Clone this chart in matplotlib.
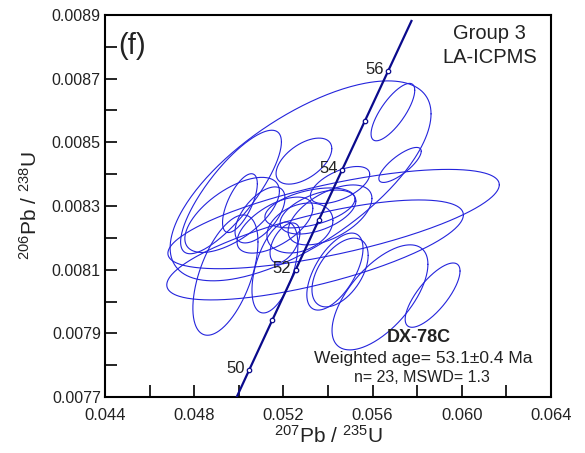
import numpy as np
import matplotlib
matplotlib.use("Agg")
import matplotlib.pyplot as plt
from matplotlib.ticker import MultipleLocator, FixedLocator, FormatStrFormatter

plt.rcParams['font.family'] = ['Liberation Sans', 'DejaVu Sans']
plt.rcParams['mathtext.default'] = 'regular'

# ---- analysis data (ellipse centres, half-extents, correlation) ----
pb207_u235 = [0.05277, 0.05691, 0.05723, 0.04965, 0.05005, 0.04970, 0.05292, 0.05454,
              0.05425, 0.05342, 0.05633, 0.05869, 0.05431, 0.05454, 0.04940, 0.05162,
              0.05162, 0.05207, 0.05355, 0.05409, 0.05274, 0.05319, 0.05095]
pb207_u235_err = [0.00585, 0.00098, 0.00095, 0.00226, 0.00078, 0.00212, 0.00125, 0.00133,
                  0.00743, 0.00665, 0.00215, 0.00123, 0.00126, 0.00126, 0.00146, 0.00103,
                  0.00170, 0.00067, 0.00170, 0.00188, 0.00148, 0.00202, 0.00112]
pb206_u238 = [0.008379, 0.008595, 0.008429, 0.008344, 0.008309, 0.008272, 0.008441, 0.008366,
              0.008259, 0.008162, 0.008013, 0.008020, 0.008094, 0.008091, 0.008083, 0.008107,
              0.008240, 0.008184, 0.008281, 0.008272, 0.008231, 0.008294, 0.008272]
pb206_u238_err = [0.000314, 0.0000902, 0.0000550, 0.000194, 0.0000924, 0.000118, 0.0000723, 0.0000581,
                  0.000156, 0.000157, 0.000165, 0.000101, 0.000121, 0.000108, 0.000189, 0.000143,
                  0.0000880, 0.0000628, 0.0000691, 0.0000942, 0.0000785, 0.0000628, 0.0000880]
rho = [0.67, 0.76, 0.78, 0.81, 0.66, 0.63, 0.54, 0.58,
       0.69, 0.70, 0.63, 0.75, 0.60, 0.50, 0.55, 0.50,
       0.60, 0.50, 0.50, 0.55, 0.30, 0.45, 0.60]

# ---- concordia (age marks in Ma) ----
conc_ages = [50, 51, 52, 53, 54, 55, 56]
conc_x = [0.050475, 0.051510, 0.052546, 0.053583, 0.054622, 0.055661, 0.056701]
conc_y = [0.0077864, 0.0079428, 0.0080990, 0.0082554, 0.0084119, 0.0085683, 0.0087247]
curve_x = [0.049906] + conc_x + [0.057742]
curve_y = [0.0077000] + conc_y + [0.0088812]
labelled_ages = [50, 52, 54, 56]

# ---- tick values ----
x_major = [0.044, 0.048, 0.052, 0.056, 0.060, 0.064]
y_major = [0.0077, 0.0079, 0.0081, 0.0083, 0.0085, 0.0087, 0.0089]

fig = plt.figure(figsize=(5.85, 4.53), dpi=100)
ax = fig.add_axes([0.1795, 0.1236, 0.7624, 0.8433])

ell_color = '#2424dc'
t = np.linspace(0, 2 * np.pi, 300)
circle = np.vstack([np.cos(t), np.sin(t)])
for x, sx, y, sy, r in zip(pb207_u235, pb207_u235_err, pb206_u238, pb206_u238_err, rho):
    cov = np.array([[sx * sx, r * sx * sy], [r * sx * sy, sy * sy]])
    L = np.linalg.cholesky(cov)
    pts = L @ circle
    ax.plot(x + pts[0], y + pts[1], color=ell_color, lw=0.8, zorder=2,
            solid_joinstyle='round', solid_capstyle='round')

conc_color = '#0a0a8c'
ax.plot(curve_x, curve_y, color=conc_color, lw=1.6, zorder=3)
ax.plot(conc_x, conc_y, linestyle='none', marker='o', ms=3.2, mfc='white',
        mec=conc_color, mew=0.9, zorder=4)
for age, cx, cy in zip(conc_ages, conc_x, conc_y):
    if age in labelled_ages:
        ax.annotate(str(age), (cx, cy), xytext=(-3, 1), textcoords='offset points',
                    ha='right', va='center', fontsize=12, color='#222222')

ax.set_xlim(0.044, 0.064)
ax.set_ylim(0.0077, 0.0089)
ax.xaxis.set_major_locator(FixedLocator(x_major))
ax.xaxis.set_minor_locator(MultipleLocator(0.002))
ax.yaxis.set_major_locator(FixedLocator(y_major))
ax.yaxis.set_minor_locator(MultipleLocator(0.0001))
ax.xaxis.set_major_formatter(FormatStrFormatter('%.3f'))
ax.yaxis.set_major_formatter(FormatStrFormatter('%.4f'))
ax.tick_params(which='both', direction='in', length=8.5, width=1.2, top=False, right=False,
               colors='black', labelcolor='#222222')
ax.tick_params(axis='x', which='major', pad=8, labelsize=12)
ax.tick_params(axis='y', which='major', pad=3, labelsize=11.5)
for s in ax.spines.values():
    s.set_linewidth(1.5)
    s.set_color('black')

ax.set_xlabel('$^{207}$Pb / $^{235}$U', fontsize=15, color='#222222', labelpad=1)
ax.set_ylabel('$^{206}$Pb / $^{238}$U', fontsize=15, color='#222222', labelpad=8)

ax.text(0.029, 0.92, '(f)', transform=ax.transAxes, fontsize=21, ha='left', va='center',
        color='#222222')
ax.text(0.863, 0.951, 'Group 3', transform=ax.transAxes, fontsize=14.5, ha='center',
        va='center', color='#222222')
ax.text(0.863, 0.889, 'LA-ICPMS', transform=ax.transAxes, fontsize=14.5, ha='center',
        va='center', color='#222222')
ax.text(0.704, 0.157, 'DX-78C', transform=ax.transAxes, fontsize=13, fontweight='bold',
        ha='center', va='center', color='#222222')
ax.text(0.713, 0.102, 'Weighted age= 53.1\u00b10.4 Ma', transform=ax.transAxes, fontsize=12.5,
        ha='center', va='center', color='#222222')
ax.text(0.711, 0.051, 'n= 23, MSWD= 1.3', transform=ax.transAxes, fontsize=11.5,
        ha='center', va='center', color='#222222')

fig.savefig('out.png', dpi=100)
